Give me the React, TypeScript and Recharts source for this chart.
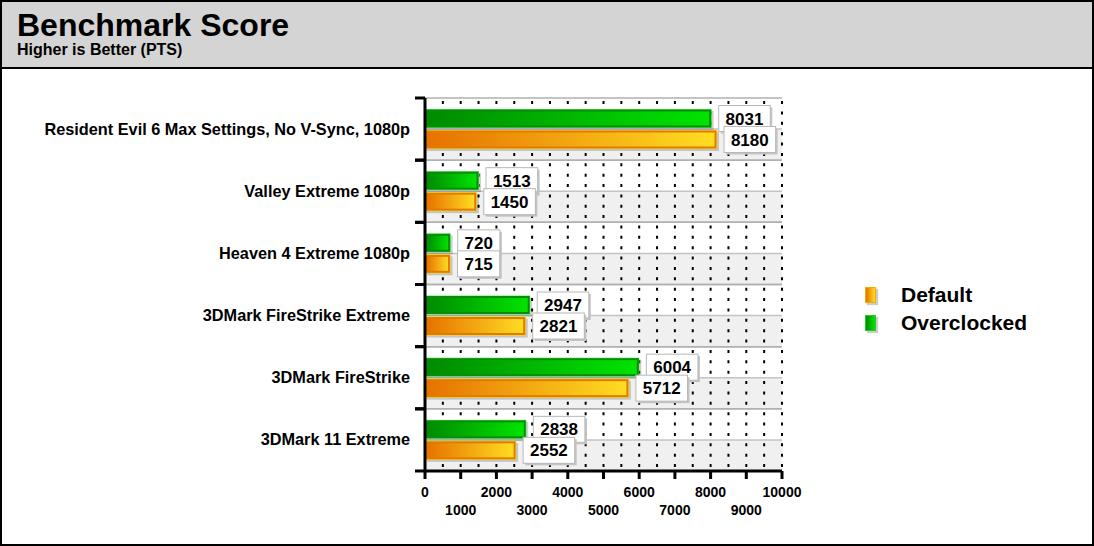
import {
  Bar,
  BarChart,
  CartesianGrid,
  LabelList,
  ReferenceArea,
  ReferenceLine,
  XAxis,
  YAxis,
} from "recharts"

const categories = [
  "Resident Evil 6 Max Settings, No V-Sync, 1080p",
  "Valley Extreme 1080p",
  "Heaven 4 Extreme 1080p",
  "3DMark FireStrike Extreme",
  "3DMark FireStrike",
  "3DMark 11 Extreme",
]
const defaultScores = [8180, 1450, 715, 2821, 5712, 2552]
const overclockedScores = [8031, 1513, 720, 2947, 6004, 2838]
const xTicks = [0, 1000, 2000, 3000, 4000, 5000, 6000, 7000, 8000, 9000, 10000]
const gridTicks = [
  500, 1000, 1500, 2000, 2500, 3000, 3500, 4000, 4500, 5000,
  5500, 6000, 6500, 7000, 7500, 8000, 8500, 9000, 9500, 10000,
]

const data = categories.map((name, i) => ({
  name,
  Default: defaultScores[i],
  Overclocked: overclockedScores[i],
}))

const FONT = '"Liberation Sans", Arial, Helvetica, sans-serif'

function BandShape(props: any) {
  const { x, y, width, height } = props
  const mid = y + height / 2
  return (
    <g>
      <rect x={x} y={mid} width={width} height={height / 2} fill="#f0f0f0" />
      <line x1={x} x2={x + width} y1={y} y2={y} stroke="#b0b0b0" strokeWidth={1.5} />
      <line x1={x} x2={x + width} y1={y + height} y2={y + height} stroke="#b0b0b0" strokeWidth={1.5} />
      <line x1={x - 10} x2={x} y1={y} y2={y} stroke="#000" strokeWidth={3} />
      <line x1={x - 10} x2={x} y1={y + height} y2={y + height} stroke="#000" strokeWidth={3} />
    </g>
  )
}

function BarShape(props: any) {
  const { x, y, width, height, gradId, edge, border } = props
  if (!width || width <= 0) return null
  return (
    <g>
      <rect x={x + 2} y={y + 2} width={width} height={height} fill="rgba(0,0,0,0.18)" />
      <rect x={x} y={y} width={width} height={height} fill={edge} />
      <rect
        x={x + 1.5}
        y={y + 1.5}
        width={width - 3}
        height={height - 3}
        fill={`url(#${gradId})`}
        stroke={border}
        strokeWidth={2}
      />
    </g>
  )
}

function ValueBox(props: any) {
  const vb = props.viewBox ?? {}
  const x = props.x ?? vb.x
  const y = props.y ?? vb.y
  const width = props.width ?? vb.width
  const height = props.height ?? vb.height
  const text = String(props.value)
  const w = text.length * 9.4 + 14
  const bx = x + width + 7
  const cy = y + height / 2
  return (
    <g>
      <rect x={bx + 2} y={cy - 13 + 2} width={w} height={26} fill="#c4c4c4" />
      <rect x={bx} y={cy - 13} width={w} height={26} fill="#fff" stroke="#b8b8b8" />
      <text
        x={bx + w / 2}
        y={cy + 6}
        textAnchor="middle"
        fontFamily={FONT}
        fontWeight="bold"
        fontSize={17}
        fill="#000"
      >
        {text}
      </text>
    </g>
  )
}

function CategoryTick(props: any) {
  const { x, y, payload } = props
  return (
    <text x={x} y={y + 5.5} textAnchor="end" fontFamily={FONT} fontWeight="bold" fontSize={16.3} fill="#000">
      {payload.value}
    </text>
  )
}

function ValueTick(props: any) {
  const { x, y, payload, index } = props
  return (
    <text
      x={x}
      y={y + (index % 2 ? 34 : 16)}
      textAnchor="middle"
      fontFamily={FONT}
      fontWeight="bold"
      fontSize={14}
      fill="#000"
    >
      {payload.value}
    </text>
  )
}

function LegendSwatch({ from, to, border }: { from: string; to: string; border: string }) {
  return (
    <span
      style={{
        display: "inline-block",
        width: 9,
        height: 14,
        background: `linear-gradient(to right, ${from}, ${to})`,
        border: `1.5px solid ${border}`,
        boxShadow: "2px 2px 1px rgba(0,0,0,0.2)",
        marginRight: 25,
      }}
    />
  )
}

export default function App() {
  return (
    <div
      style={{
        position: "absolute",
        left: 0,
        top: 0,
        width: 1094,
        height: 546,
        background: "#fff",
        fontFamily: FONT,
        overflow: "hidden",
      }}
    >
      <div
        style={{
          position: "absolute",
          left: 0,
          top: 0,
          width: 1094,
          height: 69,
          boxSizing: "border-box",
          background: "#d4d4d4",
          borderBottom: "2px solid #000",
        }}
      >
        <div style={{ position: "absolute", left: 17, top: 9, fontSize: 32, lineHeight: 1, fontWeight: "bold" }}>
          Benchmark Score
        </div>
        <div style={{ position: "absolute", left: 17, top: 42, fontSize: 16, lineHeight: 1, fontWeight: "bold" }}>
          Higher is Better (PTS)
        </div>
      </div>

      <div style={{ position: "absolute", left: 0, top: 0 }}>
        <BarChart
          width={1094}
          height={546}
          data={data}
          layout="vertical"
          barSize={19}
          barGap={2}
          margin={{ top: 98, right: 312, bottom: 25, left: 10 }}
        >
          <defs>
            <linearGradient id="gradGreen" x1="0" y1="0" x2="1" y2="0">
              <stop offset="0%" stopColor="#008a00" />
              <stop offset="100%" stopColor="#00e400" />
            </linearGradient>
            <linearGradient id="gradOrange" x1="0" y1="0" x2="1" y2="0">
              <stop offset="0%" stopColor="#e67200" />
              <stop offset="100%" stopColor="#ffdd22" />
            </linearGradient>
          </defs>
          {categories.map((c) => (
            <ReferenceArea key={c} y1={c} y2={c} zIndex={-200} shape={<BandShape />} />
          ))}
          <CartesianGrid vertical={false} stroke="#c4c4c4" strokeWidth={1.5} />
          {gridTicks.map((v) => (
            <ReferenceLine
              key={v}
              x={v}
              zIndex={-150}
              stroke="#000"
              strokeWidth={2}
              strokeDasharray="3 7.37"
              strokeDashoffset={-4}
            />
          ))}
          <XAxis
            type="number"
            domain={[0, 10000]}
            ticks={xTicks}
            interval={0}
            height={50}
            tickSize={8}
            axisLine={{ stroke: "#000", strokeWidth: 3 }}
            tickLine={{ stroke: "#000", strokeWidth: 3 }}
            tick={<ValueTick />}
          />
          <YAxis
            type="category"
            dataKey="name"
            width={415}
            tickLine={false}
            tickSize={6}
            tickMargin={9}
            axisLine={{ stroke: "#000", strokeWidth: 3 }}
            tick={<CategoryTick />}
          />
          <Bar
            dataKey="Overclocked"
            isAnimationActive={false}
            shape={(p: any) => <BarShape {...p} gradId="gradGreen" edge="#44ff44" border="#0c8a0c" />}
          >
            <LabelList dataKey="Overclocked" content={<ValueBox />} />
          </Bar>
          <Bar
            dataKey="Default"
            isAnimationActive={false}
            shape={(p: any) => <BarShape {...p} gradId="gradOrange" edge="#ffe000" border="#e27a00" />}
          >
            <LabelList dataKey="Default" content={<ValueBox />} />
          </Bar>
        </BarChart>
      </div>

      <div style={{ position: "absolute", left: 865, top: 281, fontSize: 21, fontWeight: "bold", lineHeight: "28px" }}>
        <div style={{ display: "flex", alignItems: "center" }}>
          <LegendSwatch from="#e67200" to="#ffdd22" border="#f0b000" />
          Default
        </div>
        <div style={{ display: "flex", alignItems: "center" }}>
          <LegendSwatch from="#008a00" to="#00e400" border="#22cc22" />
          Overclocked
        </div>
      </div>

      <div
        style={{
          position: "absolute",
          left: 0,
          top: 0,
          width: 1094,
          height: 546,
          boxSizing: "border-box",
          border: "2px solid #000",
          pointerEvents: "none",
        }}
      />
    </div>
  )
}
